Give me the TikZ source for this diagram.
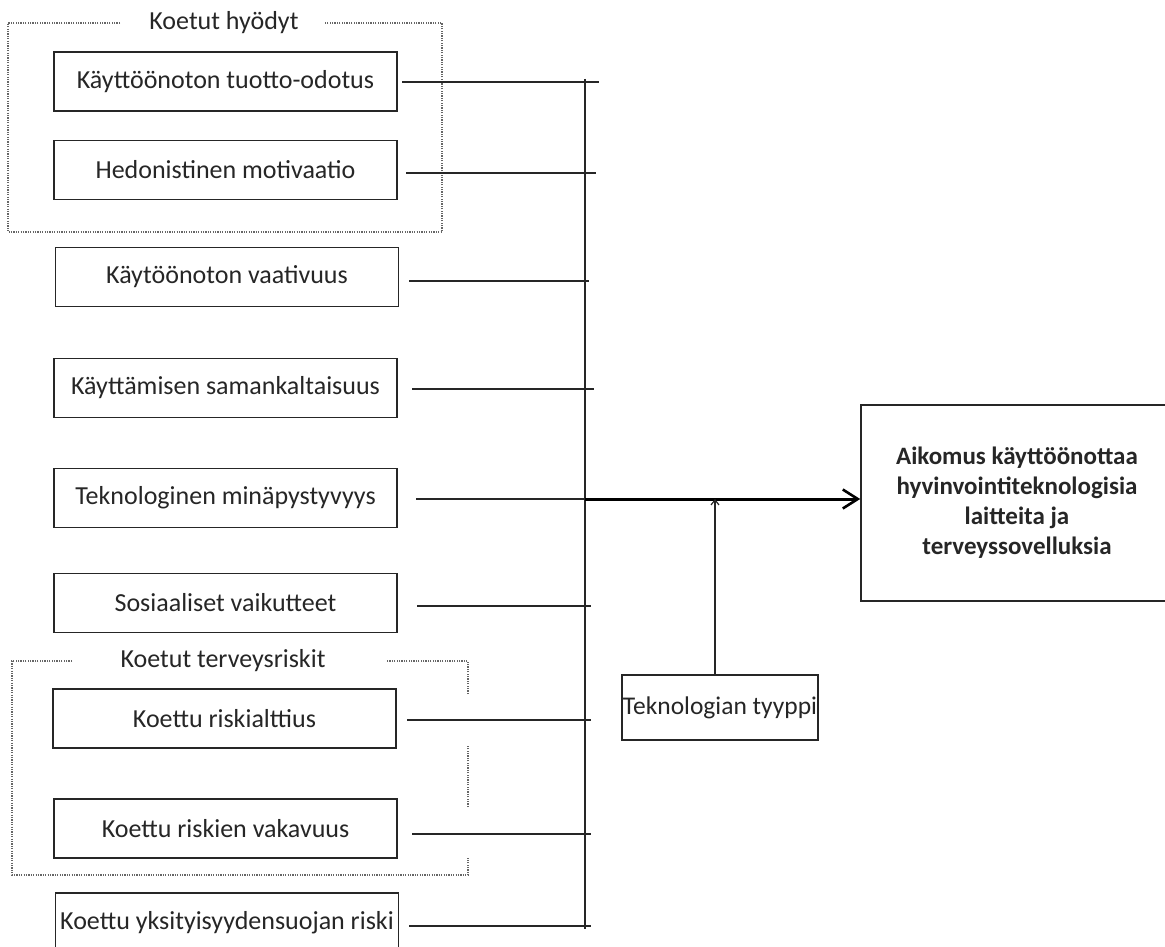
\documentclass[tikz,border=0pt]{standalone}
\usepackage{fontspec}
\setmainfont{Carlito}
\usetikzlibrary{arrows.meta}
\begin{document}
\begin{tikzpicture}[x=1pt,y=-1pt,
  every node/.style={font=\fontsize{26}{30}\selectfont, text=black!85},
  factor/.style={draw=black!85, line width=1.6pt, minimum width=343pt, minimum height=59pt, inner sep=0pt},
  conn/.style={draw=black!85, line width=1.5pt},
  grp/.style={draw=black!60, line width=1.4pt, dash pattern=on 1.2pt off 1.2pt},
  grptitle/.style={anchor=base, inner sep=0pt}]
\useasboundingbox (0,0) rectangle (1165,947);
\clip (0,0) rectangle (1165,947);
\fill[white] (0,0) rectangle (1165,947);

% group frames
\node[grptitle] (g1) at (224,29.3) {Koetut hyödyt};
\draw[grp] (120,23) -- (8,23) -- (8,232) -- (442,232) -- (442,23) -- (325,23);
\node[grptitle] (g2) at (223,667) {Koetut terveysriskit};
\draw[grp] (72,661) -- (12,661) -- (12,875) -- (468,875) -- (468,858);
\draw[grp] (468,807) -- (468,745);
\draw[grp] (468,694) -- (468,661) -- (387,661);

% factor boxes
\node[factor] (b1) at (225.5,81.5) {Käyttöönoton tuotto-odotus};
\node[factor] (b2) at (225.5,170) {Hedonistinen motivaatio};
\node[factor] (b3) at (227,277) {Käytöönoton vaativuus};
\node[factor] (b4) at (225.5,388) {Käyttämisen samankaltaisuus};
\node[factor] (b5) at (225.5,498) {Teknologinen minäpystyvyys};
\node[factor] (b6) at (225.5,603) {Sosiaaliset vaikutteet};
\node[factor] (b7) at (224.5,718.5) {Koettu riskialttius};
\node[factor] (b8) at (225.5,828.5) {Koettu riskien vakavuus};
\node[factor] (b9) at (227,922.5) {Koettu yksityisyydensuojan riski};

% outcome and moderator
\node[draw=black!85, line width=1.6pt, minimum width=312pt, minimum height=196pt, inner sep=0pt,
      align=center, font=\fontsize{25}{30}\selectfont\bfseries] (out) at (1017,503)
  {Aikomus käyttöönottaa\\hyvinvointiteknologisia\\laitteita ja\\terveyssovelluksia};
\node[draw=black!85, line width=1.6pt, minimum width=196pt, minimum height=65pt, inner sep=0pt,
      font=\fontsize{25.5}{30}\selectfont] (tek) at (720,707.5) {Teknologian tyyppi};

% connector end points
\coordinate (s1) at (402,82);  \coordinate (e1) at (599,82);
\coordinate (s2) at (406,173); \coordinate (e2) at (596,173);
\coordinate (s3) at (409,281); \coordinate (e3) at (589,281);
\coordinate (s4) at (412,389); \coordinate (e4) at (594,389);
\coordinate (s5) at (416,499); \coordinate (e5) at (585,499);
\coordinate (s6) at (417,606); \coordinate (e6) at (591,606);
\coordinate (s7) at (407,720); \coordinate (e7) at (591,720);
\coordinate (s8) at (412,834); \coordinate (e8) at (591,834);
\coordinate (s9) at (409,926); \coordinate (e9) at (591,926);
\coordinate (bt) at (585,79);  \coordinate (bb) at (585,929);
\coordinate (join) at (715,499);

\foreach \i in {1,...,9} {\draw[conn] (s\i) -- (e\i);}
\draw[conn] (bt) -- (bb);

% main arrow
\draw[draw=black, line width=3pt, -{Straight Barb[length=15pt,width=19pt,line width=2.6pt]}] (e5) -- (out.west |- e5);
% moderator arrow
\draw[conn, -{Straight Barb[length=5pt,width=8pt,line width=1.2pt]}] (tek.north -| join) -- (join);
\end{tikzpicture}
\end{document}
